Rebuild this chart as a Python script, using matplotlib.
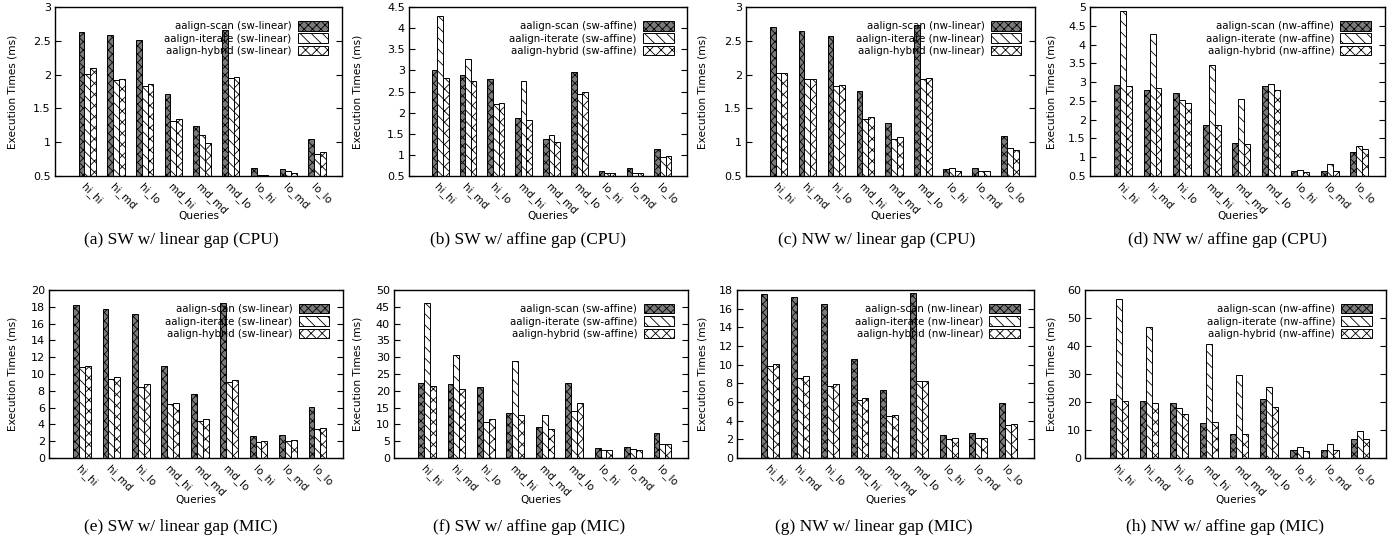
import matplotlib
matplotlib.use("Agg")
import matplotlib.pyplot as plt
import numpy as np

queries = ["hi_hi", "hi_md", "hi_lo", "md_hi", "md_md", "md_lo", "lo_hi", "lo_md", "lo_lo"]
methods = ["aalign-scan", "aalign-iterate", "aalign-hybrid"]

# (a) SW linear CPU
a_scan = [2.63, 2.59, 2.51, 1.71, 1.24, 2.66, 0.62, 0.61, 1.04]
a_iter = [2.01, 1.92, 1.83, 1.32, 1.10, 1.95, 0.52, 0.58, 0.83]
a_hyb  = [2.10, 1.94, 1.86, 1.34, 0.99, 1.96, 0.52, 0.55, 0.85]
# (b) SW affine CPU
b_scan = [3.00, 2.90, 2.80, 1.88, 1.38, 2.97, 0.61, 0.69, 1.15]
b_iter = [4.28, 3.26, 2.20, 2.75, 1.47, 2.45, 0.56, 0.58, 0.95]
b_hyb  = [2.83, 2.75, 2.23, 1.83, 1.30, 2.48, 0.56, 0.57, 0.97]
# (c) NW linear CPU
c_scan = [2.70, 2.65, 2.57, 1.76, 1.28, 2.73, 0.60, 0.62, 1.09]
c_iter = [2.02, 1.94, 1.83, 1.35, 1.04, 1.94, 0.62, 0.58, 0.91]
c_hyb  = [2.03, 1.94, 1.85, 1.38, 1.07, 1.95, 0.57, 0.58, 0.89]
# (d) NW affine CPU
d_scan = [2.92, 2.80, 2.72, 1.86, 1.37, 2.89, 0.63, 0.63, 1.14]
d_iter = [4.90, 4.28, 2.53, 3.46, 2.56, 2.96, 0.67, 0.83, 1.30]
d_hyb  = [2.90, 2.85, 2.45, 1.86, 1.35, 2.80, 0.60, 0.63, 1.22]
# (e) SW linear MIC
e_scan = [18.2, 17.7, 17.1, 10.9, 7.6, 18.5, 2.6, 2.7, 6.1]
e_iter = [10.8, 9.4, 8.5, 6.4, 4.4, 9.0, 1.9, 2.0, 3.5]
e_hyb  = [10.9, 9.7, 8.8, 6.6, 4.6, 9.3, 2.0, 2.1, 3.6]
# (f) SW affine MIC
f_scan = [22.2, 21.9, 21.1, 13.4, 9.1, 22.4, 3.0, 3.2, 7.3]
f_iter = [46.0, 30.6, 10.8, 28.9, 12.9, 14.0, 2.3, 2.6, 4.2]
f_hyb  = [21.4, 20.4, 11.7, 12.9, 8.5, 16.5, 2.5, 2.5, 4.3]
# (g) NW linear MIC
g_scan = [17.6, 17.2, 16.5, 10.6, 7.3, 17.7, 2.5, 2.7, 5.9]
g_iter = [9.9, 8.6, 7.7, 6.2, 4.5, 8.2, 2.0, 2.1, 3.5]
g_hyb  = [10.1, 8.8, 7.9, 6.4, 4.6, 8.3, 2.1, 2.1, 3.6]
# (h) NW affine MIC
h_scan = [21.0, 20.4, 19.8, 12.5, 8.7, 21.2, 2.9, 3.0, 6.9]
h_iter = [56.8, 46.9, 17.9, 40.7, 29.6, 25.3, 4.1, 5.0, 9.7]
h_hyb  = [20.4, 19.8, 15.8, 13.0, 8.7, 18.3, 2.5, 2.9, 6.9]

captions = ["(a) SW w/ linear gap (CPU)", "(b) SW w/ affine gap (CPU)",
            "(c) NW w/ linear gap (CPU)", "(d) NW w/ affine gap (CPU)",
            "(e) SW w/ linear gap (MIC)", "(f) SW w/ affine gap (MIC)",
            "(g) NW w/ linear gap (MIC)", "(h) NW w/ affine gap (MIC)"]
variants = ["sw-linear", "sw-affine", "nw-linear", "nw-affine"] * 2
series = [(a_scan, a_iter, a_hyb), (b_scan, b_iter, b_hyb), (c_scan, c_iter, c_hyb),
          (d_scan, d_iter, d_hyb), (e_scan, e_iter, e_hyb), (f_scan, f_iter, f_hyb),
          (g_scan, g_iter, g_hyb), (h_scan, h_iter, h_hyb)]
yranges = [(0.5, 3, 0.5), (0.5, 4.5, 0.5), (0.5, 3, 0.5), (0.5, 5, 0.5),
           (0, 20, 2), (0, 50, 5), (0, 18, 2), (0, 60, 10)]

W, H = 1393, 546
plt.rcParams["hatch.linewidth"] = 0.6
plt.rcParams["font.family"] = "DejaVu Sans"
fig = plt.figure(figsize=(W / 100, H / 100), dpi=100)

# axes pixel boxes: (left, right, top, bottom)
boxes = [(55, 342, 7, 176), (409, 687, 7, 176), (746, 1035, 7, 176), (1090, 1385, 7, 176),
         (49, 343, 290, 458), (394, 688, 290, 458), (737, 1034, 290, 458), (1085, 1386, 290, 458)]
ylab_x = [13, 358, 703, 1051, 13, 358, 703, 1051]
cap_x = [181, 528, 877, 1227, 181, 529, 874, 1225]
hatches = ["xxxx", "\\\\\\", "xxx"]
faces = ["#7a7a7a", "white", "white"]
bw = 0.2
x = np.arange(len(queries))

for i, (box, ser, yr) in enumerate(zip(boxes, series, yranges)):
    l, r, t, b = box
    ax = fig.add_axes([l / W, 1 - b / H, (r - l) / W, (b - t) / H])
    for k, (vals, hatch) in enumerate(zip(ser, hatches)):
        ax.bar(x + (k - 1) * bw, vals, width=bw, bottom=0, facecolor=faces[k],
               edgecolor="black", linewidth=0.7, hatch=hatch,
               label=f"{methods[k]} ({variants[i]})")
    y0, y1, st = yr
    ax.set_ylim(y0, y1)
    ax.set_xlim(-1.12, 8.87)
    ax.set_yticks(np.arange(y0, y1 + st / 2, st))
    ax.yaxis.set_major_formatter(matplotlib.ticker.FuncFormatter(lambda v, p: f"{v:g}"))
    ax.set_xticks(x)
    ax.set_xticklabels(queries, rotation=-45, ha="left", va="top",
                       rotation_mode="anchor", fontsize=7.5)
    ax.tick_params(axis="x", length=0, pad=4)
    ax.tick_params(axis="y", direction="in", length=4, right=True, labelsize=8, pad=3)
    for s in ax.spines.values():
        s.set_linewidth(1.0)
    leg = ax.legend(loc="upper right", frameon=False, markerfirst=False, fontsize=7.4,
                    handlelength=3.0, handleheight=1.0, handletextpad=0.6,
                    labelspacing=0.2, borderaxespad=0.5, bbox_to_anchor=(0.985, 0.97))
    for txt in leg.get_texts():
        txt.set_ha("right")
    cy = 1 - ((t + b) / 2) / H
    fig.text(ylab_x[i] / W, cy, "Execution Times (ms)", rotation=90, ha="center",
             va="center", fontsize=7.6)
    qy = 216 if i < 4 else 500
    fig.text(((l + r) / 2) / W, 1 - qy / H, "Queries", ha="center", va="center", fontsize=7.6)
    capy = 240 if i < 4 else 527
    fig.text(cap_x[i] / W, 1 - capy / H, captions[i], ha="center", va="center",
             fontsize=12.5, family="Liberation Serif")

fig.savefig("out.png", dpi=100)
